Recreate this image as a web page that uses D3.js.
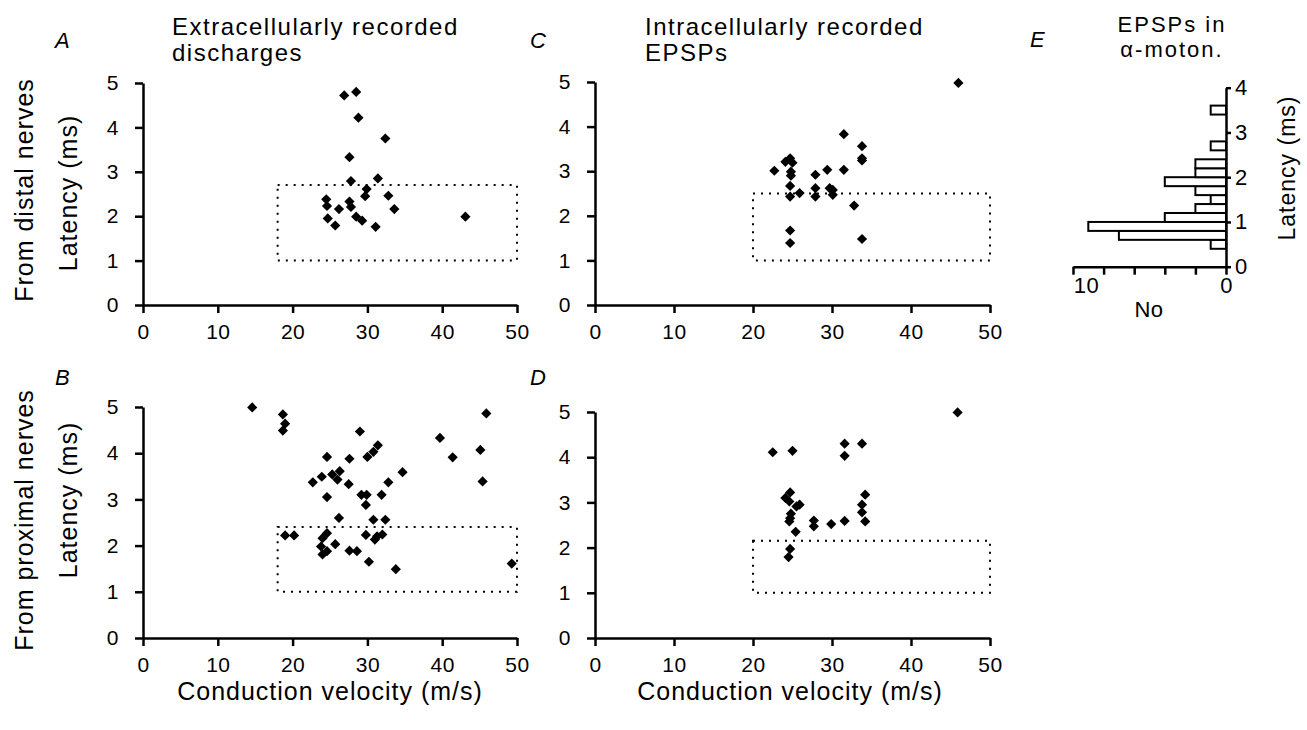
<!DOCTYPE html>
<html>
<head>
<meta charset="utf-8">
<script src="https://cdnjs.cloudflare.com/ajax/libs/d3/7.8.5/d3.min.js"></script>
<style>
body { margin: 0; background: #fff; }
text { font-family: "Liberation Sans", Arial, Helvetica, sans-serif; fill: #000; }
</style>
</head>
<body>
<svg id="fig" width="1307" height="730"></svg>
<script>
// --- data ---
// A : extracellular, distal nerves
const vitA = [26.9,28.5,28.8,32.4,27.6,27.8,31.4,29.9,29.7,32.8,24.5,24.6,26.2,27.6,27.8,33.6,24.7,28.5,29.3,25.7,31.1,43.1];
const latA = [4.72,4.80,4.22,3.75,3.33,2.79,2.85,2.61,2.45,2.46,2.38,2.23,2.16,2.33,2.21,2.16,1.95,1.99,1.90,1.79,1.76,1.99];
// B : extracellular, proximal nerves
const vitB = [14.6,18.7,19.0,18.7,29.0,45.9,39.7,45.1,41.4,24.6,27.6,30.0,30.8,31.4,45.4,34.7,22.7,23.9,25.3,26.3,26.0,27.5,32.8,24.6,29.2,29.9,31.9,29.8,26.2,30.8,32.4,19.0,20.2,24.6,24.0,29.8,31.0,31.3,32.0,23.8,25.7,24.0,24.6,27.6,28.6,30.2,33.8,49.3];
const latB = [4.99,4.84,4.64,4.49,4.47,4.86,4.33,4.07,3.91,3.92,3.88,3.92,4.03,4.17,3.39,3.59,3.37,3.49,3.54,3.61,3.43,3.33,3.37,3.05,3.10,3.10,3.10,2.88,2.60,2.56,2.56,2.22,2.22,2.27,2.16,2.23,2.13,2.20,2.24,1.98,2.03,1.81,1.88,1.89,1.88,1.65,1.49,1.61];
// C : intracellular EPSPs, distal nerves
const vitC = [46.0,31.5,33.8,33.8,33.8,22.7,24.1,24.7,25.0,24.8,24.8,24.7,24.7,25.9,27.9,29.4,31.5,27.9,27.9,29.7,30.1,30.1,32.8,24.7,24.7,33.8];
const latC = [4.98,3.83,3.56,3.29,3.24,3.01,3.21,3.29,3.19,2.99,2.90,2.67,2.43,2.51,2.92,3.03,3.03,2.62,2.43,2.62,2.58,2.47,2.23,1.67,1.39,1.48];
// D : intracellular EPSPs, proximal nerves
const vitD = [45.9,22.5,25.0,31.6,31.6,33.8,24.7,24.1,24.6,25.9,25.5,24.8,24.7,24.6,25.4,27.7,27.7,29.9,31.6,34.2,33.8,33.8,34.2,24.7,24.5];
const latD = [4.99,4.11,4.14,4.30,4.03,4.30,3.22,3.10,3.02,2.95,2.91,2.75,2.65,2.58,2.35,2.60,2.47,2.52,2.59,3.17,2.95,2.78,2.58,1.97,1.79];
// dotted boxes [vmin, vmax, latmin, latmax]
const boxA = [18, 50, 1, 2.7];
const boxB = [18, 50, 1, 2.4];
const boxC = [20, 50, 1, 2.5];
const boxD = [20, 50, 1, 2.15];
// E : histogram of EPSP latencies in alpha-motoneurones (bin 0.2 ms)
const binStart = [0.4,0.6,0.8,1.0,1.2,1.4,1.6,1.8,2.0,2.2,2.6,3.4];
const binCount = [1,7,9,4,2,1,2,4,2,2,1,1];
const binWidth = 0.2;

const xTicks = [0,10,20,30,40,50];
const yTicks = [0,1,2,3,4,5];
const fmt = d3.format("d");

const svg = d3.select("#fig");

// style an axis group the same way everywhere
function styleAxis(g, fs) {
  g.select(".domain").attr("stroke", "#000").attr("stroke-width", 2.5);
  g.selectAll(".tick line").attr("stroke", "#000").attr("stroke-width", 2.5);
  g.selectAll(".tick text").attr("font-size", fs).attr("letter-spacing", 0.5)
    .attr("font-family", null).attr("fill", "#000");
}

function texte(x, y, s, size, opts) {
  opts = opts || {};
  const t = svg.append("text")
    .attr("x", x).attr("y", y)
    .attr("font-size", size)
    .attr("letter-spacing", opts.ls == null ? 1 : opts.ls)
    .attr("text-anchor", opts.anchor || "start")
    .text(s);
  if (opts.italic) t.attr("font-style", "italic");
  return t;
}

function texteVertical(x, y, s, size) {
  svg.append("text")
    .attr("transform", `translate(${x},${y}) rotate(-90)`)
    .attr("font-size", size)
    .attr("letter-spacing", 1)
    .attr("text-anchor", "middle")
    .text(s);
}

/*
 scatter panel: c.x0,c.x1 = pixels of 0 and 50 m/s ; c.y0,c.y1 = pixels of 0 and 5 ms
*/
function panneau(c, vit, lat, box) {
  const x = d3.scaleLinear().domain([0, 50]).range([c.x0, c.x1]);
  const y = d3.scaleLinear().domain([0, 5]).range([c.y0, c.y1]);
  const g = svg.append("g");

  // dotted window
  g.append("rect")
    .attr("x", x(box[0])).attr("y", y(box[3]))
    .attr("width", x(box[1]) - x(box[0]))
    .attr("height", y(box[2]) - y(box[3]))
    .attr("fill", "none").attr("stroke", "#000")
    .attr("stroke-width", 2).attr("stroke-dasharray", "2 6");

  g.append("g").attr("transform", `translate(0,${c.y0})`)
    .call(d3.axisBottom(x).tickValues(xTicks).tickFormat(fmt).tickSize(8).tickSizeOuter(0).tickPadding(11))
    .call(a => styleAxis(a, 21));
  g.append("g").attr("transform", `translate(${c.x0},0)`)
    .call(d3.axisLeft(y).tickValues(yTicks).tickFormat(fmt).tickSize(8).tickSizeOuter(0).tickPadding(16))
    .call(a => styleAxis(a, 21));

  g.selectAll("path.pt").data(d3.zip(vit, lat)).join("path")
    .attr("class", "pt")
    .attr("d", d3.symbol(d3.symbolSquare, 52))
    .attr("transform", d => `translate(${x(d[0])},${y(d[1])}) rotate(45)`)
    .attr("fill", "#000");
}

panneau({x0: 143, x1: 517, y0: 305, y1: 83}, vitA, latA, boxA);
panneau({x0: 143, x1: 517, y0: 638, y1: 407}, vitB, latB, boxB);
panneau({x0: 595, x1: 990, y0: 305, y1: 82}, vitC, latC, boxC);
panneau({x0: 595, x1: 990, y0: 638, y1: 412}, vitD, latD, boxD);

// --- histogram E ---
const xE = d3.scaleLinear().domain([0, 10]).range([1226, 1073]);
const yE = d3.scaleLinear().domain([0, 4]).range([266.7, 87.7]);
const gE = svg.append("g");
gE.selectAll("rect.bar").data(d3.zip(binStart, binCount)).join("rect")
  .attr("class", "bar")
  .attr("x", d => xE(d[1]))
  .attr("y", d => yE(d[0] + binWidth))
  .attr("width", d => xE(0) - xE(d[1]))
  .attr("height", d => yE(d[0]) - yE(d[0] + binWidth))
  .attr("fill", "#fff").attr("stroke", "#000").attr("stroke-width", 2);

gE.append("g").attr("transform", `translate(0,${yE(0)})`)
  .call(d3.axisBottom(xE).tickValues([0,2,4,6,8,10]).tickSize(8).tickSizeOuter(0).tickPadding(3)
    .tickFormat(d => (d === 0 || d === 10) ? fmt(d) : ""))
  .call(a => styleAxis(a, 22))
  .call(a => a.selectAll(".tick text").filter(d => d === 10).attr("dx", 13));
gE.append("g").attr("transform", `translate(${xE(0)},0)`)
  .call(d3.axisRight(yE).tickValues([0,1,2,3,4]).tickFormat(fmt).tickSize(5).tickSizeOuter(0).tickPadding(4))
  .call(a => styleAxis(a, 22));

// --- texts ---
texte(55, 48, "A", 22, {italic: true, ls: 0});
texte(55, 385, "B", 22, {italic: true, ls: 0});
texte(530, 48, "C", 22, {italic: true, ls: 0});
texte(530, 385, "D", 22, {italic: true, ls: 0});
texte(1030, 47, "E", 22, {italic: true, ls: 0});

texte(172, 35, "Extracellularly recorded", 24, {ls: 1.5});
texte(172, 61, "discharges", 24, {ls: 1.5});
texte(645, 35, "Intracellularly recorded", 24, {ls: 1.5});
texte(645, 61, "EPSPs", 24, {ls: 1.5});
texte(1172, 32, "EPSPs in", 22, {anchor: "middle", ls: 2});
texte(1172, 57, "\u03b1-moton.", 22, {anchor: "middle", ls: 2});
texte(1149, 317, "No", 22, {anchor: "middle", ls: 0.5});

texteVertical(33, 190, "From distal nerves", 25);
texteVertical(33, 520, "From proximal nerves", 25);
texteVertical(77, 193, "Latency (ms)", 25);
texteVertical(77, 500, "Latency (ms)", 25);
texteVertical(1295, 168, "Latency (ms)", 23);

texte(330, 700, "Conduction velocity (m/s)", 25, {anchor: "middle"});
texte(790, 700, "Conduction velocity (m/s)", 25, {anchor: "middle"});
</script>
</body>
</html>
